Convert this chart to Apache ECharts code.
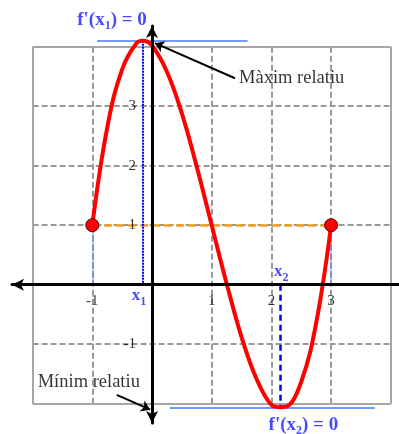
<!DOCTYPE html>
<html>
<head>
<meta charset="utf-8">
<script src="https://cdn.jsdelivr.net/npm/echarts@6/dist/echarts.min.js"></script>
<style>
  html, body { margin: 0; padding: 0; background: #fff; }
  #chart { width: 399px; height: 434px; }
</style>
</head>
<body>
<div id="chart"></div>
<script>
// f(x) sampled on [-1, 3]
const curveX = [-1, -0.75, -0.5, -0.25, -0.15, 0, 0.25, 0.5, 0.75, 1, 1.25, 1.5, 1.75, 2, 2.15, 2.25, 2.5, 2.75, 3];
const curveY = [1, 2.64, 3.62, 4.07, 4.1, 4.02, 3.58, 2.88, 1.98, 1, 0.02, -0.88, -1.58, -2.02, -2.06, -2.05, -1.63, -0.64, 1];
// interval end points
const endX = [-1, 3];
const endY = [1, 1];
// critical points x1 (maximum) and x2 (minimum)
const critX = [-0.15, 2.15];
const critY = [4.1, -2.06];
// axis numbers and grid
const tickLabels = [-1, 1, 2, 3];
const gridLinesX = [-1, 0, 1, 2, 3];
const gridLinesY = [-1, 0, 1, 2, 3];
const frame = [-2, 4];
// horizontal tangents at the extrema
const maxTangentSpan = [-0.92, 1.6];
const minTangentSpan = [0.3, 3.73];
// annotation arrows [from, to]
const maxArrow = [[1.39, 3.47], [0.05, 4.06]];
const minArrow = [[-0.59, -1.85], [-0.03, -2.10]];

const SERIF = '"Liberation Serif", "Times New Roman", serif';
const BLUE = '#1a1aff';

const gridData = [];
gridLinesX.forEach(x => gridData.push({ coords: [[x, frame[0]], [x, frame[1]]] }));
gridLinesY.forEach(y => gridData.push({ coords: [[frame[0], y], [frame[1], y]] }));
const frameData = [
  { coords: [[frame[0], frame[0]], [frame[1], frame[0]]] },
  { coords: [[frame[0], frame[1]], [frame[1], frame[1]]] },
  { coords: [[frame[0], frame[0]], [frame[0], frame[1]]] },
  { coords: [[frame[1], frame[0]], [frame[1], frame[1]]] }
];

const plainText = { fontFamily: SERIF, color: '#000', textBorderWidth: 0, textShadowBlur: 0 };
const numStyle = Object.assign({ fontSize: 15 }, plainText);
const tickLabelData = [];
tickLabels.forEach(v => tickLabelData.push({
  value: [v, 0], label: Object.assign({ show: true, position: 'bottom', distance: 9, formatter: String(v) }, numStyle)
}));
tickLabels.forEach(v => tickLabelData.push({
  value: [0, v], label: Object.assign({ show: true, position: 'left', distance: 16, formatter: String(v) }, numStyle)
}));

const boldBlue = { fontFamily: SERIF, fontWeight: 'bold', color: BLUE, fontSize: 19, lineHeight: 24, textBorderWidth: 0 };
const subBlue = { fontFamily: SERIF, fontWeight: 'bold', color: BLUE, fontSize: 12, lineHeight: 12, verticalAlign: 'bottom', textBorderWidth: 0 };
const boldBlueX = Object.assign({}, boldBlue, { fontSize: 17 });

const chart = echarts.init(document.getElementById('chart'), null, { renderer: 'canvas' });
chart.setOption({
  animation: false,
  backgroundColor: '#fff',
  grid: { left: 12, right: 0, top: 26, bottom: 11, containLabel: false, outerBoundsMode: 'none' },
  xAxis: {
    type: 'value', min: -2.345, max: 4.137, z: 10,
    axisLine: { onZero: true, symbol: ['arrow', 'none'], symbolSize: [9, 12], lineStyle: { color: '#000', width: 3 } },
    axisTick: { show: false },
    splitLine: { show: false },
    axisLabel: { show: false }
  },
  yAxis: {
    type: 'value', min: -2.324, max: 4.348, z: 10,
    axisLine: { onZero: true, symbol: ['arrow', 'arrow'], symbolSize: [9, 12], lineStyle: { color: '#000', width: 3 } },
    axisTick: { show: false },
    splitLine: { show: false },
    axisLabel: { show: false }
  },
  series: [
    {
      type: 'lines', coordinateSystem: 'cartesian2d', silent: true, z: 1,
      lineStyle: { color: '#999', width: 2, type: [6, 3], opacity: 1 },
      data: gridData
    },
    {
      type: 'lines', coordinateSystem: 'cartesian2d', silent: true, z: 1,
      lineStyle: { color: '#a6a6a6', width: 2, type: 'solid', opacity: 1 },
      data: frameData
    },
    {
      // horizontal line through the end points
      type: 'lines', coordinateSystem: 'cartesian2d', silent: true, z: 2,
      lineStyle: { color: '#f0a020', width: 2.5, type: [8, 4], opacity: 1 },
      data: [{ coords: [[endX[0], endY[0]], [endX[1], endY[1]]] }]
    },
    {
      type: 'lines', coordinateSystem: 'cartesian2d', silent: true, z: 2,
      data: [
        { coords: [[endX[0], endY[0]], [endX[0], 0]], lineStyle: { color: '#5b8cff', width: 1.5, type: [2, 1], opacity: 1 } },
        { coords: [[endX[1], endY[1]], [endX[1], 0]], lineStyle: { color: '#5b8cff', width: 1.5, type: [2, 1], opacity: 1 } },
        { coords: [[critX[0], critY[0]], [critX[0], 0]], lineStyle: { color: '#0000ff', width: 2, type: [2, 1], opacity: 1 } },
        { coords: [[critX[1], 0], [critX[1], critY[1]]], lineStyle: { color: '#0000ff', width: 2.5, type: [6, 4], opacity: 1 } },
        { coords: [[maxTangentSpan[0], critY[0]], [maxTangentSpan[1], critY[0]]], lineStyle: { color: '#4a78ff', width: 1.5, type: 'solid', opacity: 1 } },
        { coords: [[minTangentSpan[0], critY[1]], [minTangentSpan[1], critY[1]]], lineStyle: { color: '#6f96ff', width: 2, type: 'solid', opacity: 1 } }
      ]
    },
    {
      type: 'scatter', z: 3, symbolSize: 0, silent: true,
      data: tickLabelData
    },
    {
      type: 'line', z: 5, smooth: 0.4, showSymbol: false, clip: false, silent: true,
      lineStyle: { color: '#ff0000', width: 4 },
      data: curveX.map((x, i) => [x, curveY[i]])
    },
    {
      type: 'scatter', z: 12, symbolSize: 13, silent: true,
      itemStyle: { color: '#ff0000', borderColor: '#550000', borderWidth: 1, opacity: 1 },
      data: endX.map((x, i) => [x, endY[i]])
    },
    {
      type: 'lines', coordinateSystem: 'cartesian2d', silent: true, z: 12,
      symbol: ['none', 'arrow'], symbolSize: 9,
      lineStyle: { color: '#000', width: 2, type: 'solid', opacity: 1 },
      data: [{ coords: maxArrow }, { coords: minArrow }]
    },
    {
      type: 'scatter', z: 13, symbolSize: 0, silent: true,
      data: [
        {
          value: [critX[0], critY[0]],
          label: { show: true, position: 'inside', offset: [-31, -21], textBorderWidth: 0,
            formatter: '{b|f\'(x}{s|1}{b|) = 0}', rich: { b: boldBlue, s: subBlue } }
        },
        {
          value: [critX[1], critY[1]],
          label: { show: true, position: 'inside', offset: [23, 18], textBorderWidth: 0,
            formatter: '{b|f\'(x}{s|2}{b|) = 0}', rich: { b: boldBlue, s: subBlue } }
        },
        {
          value: [critX[0], 0],
          label: { show: true, position: 'inside', offset: [-4, 11], textBorderWidth: 0,
            formatter: '{b|x}{s|1}', rich: { b: boldBlueX, s: subBlue } }
        },
        {
          value: [critX[1], 0],
          label: { show: true, position: 'inside', offset: [1, -13], textBorderWidth: 0,
            formatter: '{b|x}{s|2}', rich: { b: boldBlueX, s: subBlue } }
        },
        {
          value: maxArrow[0],
          label: Object.assign({ show: true, position: 'right', distance: 4, formatter: 'Màxim relatiu', fontSize: 18.5 }, plainText)
        },
        {
          value: minArrow[0],
          label: Object.assign({ show: true, position: 'inside', offset: [-28, -13], formatter: 'Mínim relatiu', fontSize: 18.5 }, plainText)
        }
      ]
    }
  ]
});
</script>
</body>
</html>
